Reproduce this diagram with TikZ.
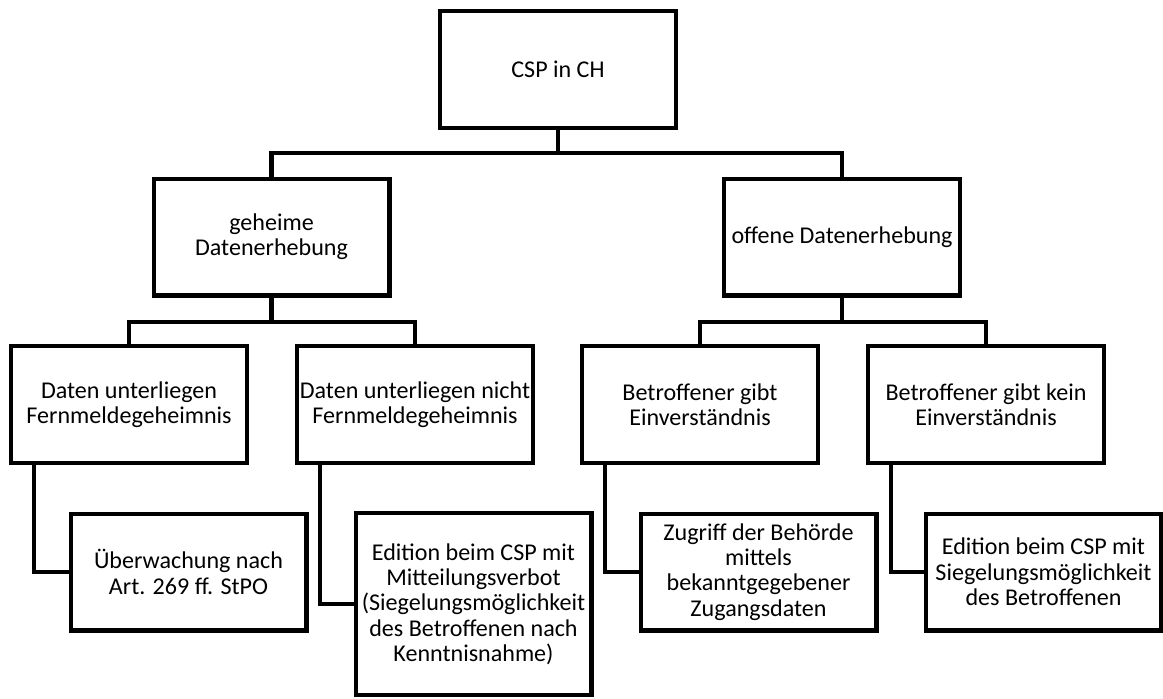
\documentclass[tikz,border=0pt]{standalone}
\usepackage{fontspec}
\setmainfont{Carlito}

\begin{document}
\begin{tikzpicture}[x=0.02cm,y=-0.02cm,line width=2.3pt,  % 1 unit = 1 px, y nach unten
  box/.style={draw,rectangle,minimum width=4.72cm,minimum height=2.34cm,
    inner sep=1pt,align=center,font=\fontsize{13.7}{14.4}\selectfont}]
\useasboundingbox (0,0) rectangle (1163,698);

% Ebene 1
\node[box] (csp) at (558,69.5) {CSP in CH};

% Ebene 2
\node[box] (geheim) at (271.5,237) {geheime\\Datenerhebung};
\node[box] (offen) at (842,237) {offene Datenerhebung};

% Ebene 3
\node[box] (fmg) at (129,404.5) {Daten unterliegen\\Fernmeldegeheimnis};
\node[box] (nfmg) at (415,404.5) {Daten unterliegen nicht\\Fernmeldegeheimnis};
\node[box] (ein) at (700,404.5) {Betroffener gibt\\Einverständnis};
\node[box] (kein) at (986,404.5) {Betroffener gibt kein\\Einverständnis};

% Ebene 4
\node[box] (ueb) at (188.5,572) {Überwachung nach\\Art. 269 ff. StPO};
\node[box,minimum height=3.64cm] (edm) at (473.5,604) {Edition beim CSP mit\\Mitteilungsverbot\\(Siegelungsmöglichkeit\\des Betroffenen nach\\Kenntnisnahme)};
\node[box] (zug) at (758.5,572) {Zugriff der Behörde\\mittels\\bekanntgegebener\\Zugangsdaten};
\node[box] (eds) at (1043.5,572) {Edition beim CSP mit\\Siegelungsmöglichkeit\\des Betroffenen};

% Verzweigungen
\coordinate (j1) at (558,153);
\coordinate (j2) at (271.5,321.7);
\coordinate (j3) at (842,321.7);
\draw (csp.south) -- (j1);
\draw (geheim.north) |- (j1) -| (offen.north);
\draw (geheim.south) -- (j2);
\draw (fmg.north) |- (j2) -| (nfmg.north);
\draw (offen.south) -- (j3);
\draw (ein.north) |- (j3) -| (kein.north);

% Winkel zur Ebene 4
\foreach \a/\b in {fmg/ueb,nfmg/edm,ein/zug,kein/eds} {
    \draw ([xshift=0.5cm]\a.south west) |- (\b.west);
}

\end{tikzpicture}
\end{document}
